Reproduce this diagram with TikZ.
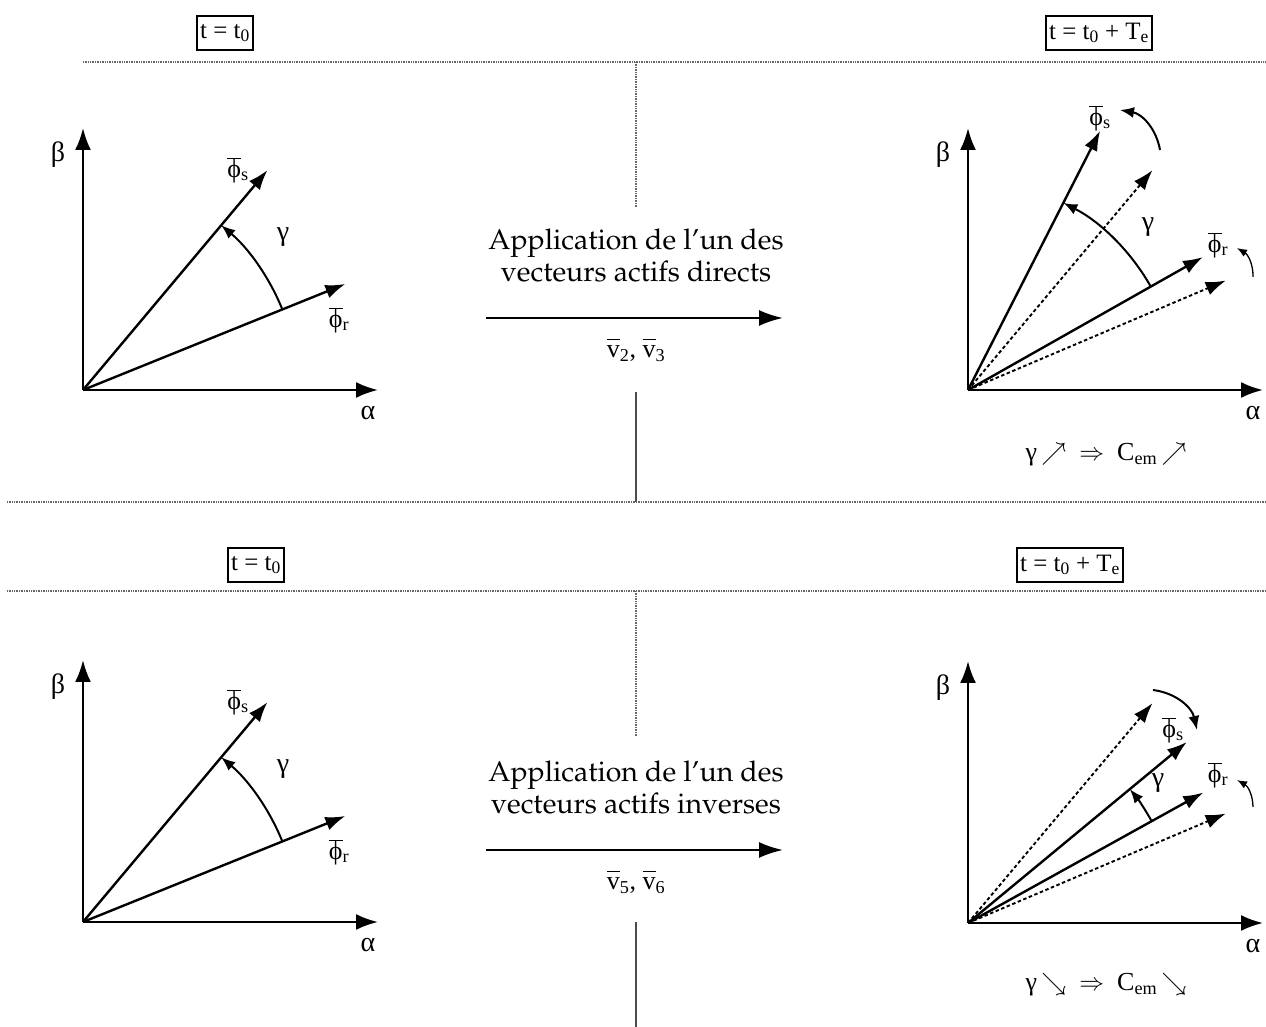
\documentclass[tikz,border=0pt]{standalone}
\usepackage[T1]{fontenc}
\usepackage{fontspec}
\setmainfont{Liberation Serif}
\usetikzlibrary{arrows.meta}
\newcommand\palfont{\IfFileExists{t1ppl.fd}{\fontencoding{T1}\fontfamily{ppl}\selectfont}{}}
\newcommand\phib[1]{$\overline{\mbox{ϕ}}$\textsubscript{#1}}
\newcommand\vb[1]{$\overline{\vphantom{T}\mbox{v}}$\textsubscript{#1}}
\newcommand\leftdiag[1]{%
  \coordinate (#1o) at (0,0);
  \coordinate (#1b) at (0,262);
  \coordinate (#1a) at (295,0);
  \coordinate (#1s) at (50:287);
  \coordinate (#1r) at (22:283);
  \coordinate (#1g1) at (22:215);
  \draw[axis] (#1o) -- (#1b);
  \draw[axis] (#1o) -- (#1a);
  \draw[vecs] (#1o) -- (#1s);
  \draw[vecs] (#1o) -- (#1r);
  \draw[angarc] (#1g1) arc[start angle=22, end angle=50, radius=215];
  \node[greek] (#1bl) at (-25,235) {β};
  \node[greek] (#1al) at (285,-23) {α};
  \node[lab] (#1sl) at (155,220) {\phib{s}};
  \node[lab] (#1rl) at (256,70) {\phib{r}};
  \node[greek] (#1gl) at (200,153) {γ};
}
\begin{document}
\begin{tikzpicture}[x=1pt,y=1pt,
  lab/.style={font=\fontsize{26}{30}\selectfont, inner sep=0pt},
  greek/.style={font=\fontsize{28}{30}\selectfont, inner sep=0pt},
  axis/.style={line width=2.4pt, -{Latex[length=22pt,width=16pt]}},
  vecs/.style={line width=2.4pt, -{Latex[length=20pt,width=14pt]}},
  dvec/.style={line width=1.9pt, dash pattern=on 3.5pt off 2.5pt, -{Latex[length=20pt,width=14pt]}},
  angarc/.style={line width=2pt, -{Latex[length=14pt,width=11pt]}},
  rotbig/.style={line width=2pt, -{Latex[length=14pt,width=11pt]}},
  rotsmall/.style={line width=1.3pt, -{Latex[length=10pt,width=8pt]}},
  sep/.style={line width=1.2pt, black!60, dash pattern=on 1pt off 0.7pt},
  sepsolid/.style={line width=1.6pt, black!70},
  tbox/.style={draw, line width=1.4pt, font=\fontsize{25}{28}\selectfont, inner xsep=3pt, inner ysep=2pt, minimum height=34pt},
  mid/.style={font=\palfont\fontsize{28.5}{32}\selectfont, align=center, inner sep=0pt},
  bigarrow/.style={line width=2.4pt, -{Latex[length=24pt,width=16pt]}},
  concl/.style={font=\fontsize{26}{30}\selectfont, inner sep=0pt}
]
\useasboundingbox (0,0) rectangle (1266,1027);

% separators
\coordinate (h1a) at (83,965);  \coordinate (h1b) at (1266,965);
\coordinate (v1a) at (636,965); \coordinate (v1b) at (636,820);
\coordinate (v2a) at (636,635); \coordinate (v2b) at (636,525);
\coordinate (h2a) at (7,525);   \coordinate (h2b) at (1266,525);
\coordinate (h3a) at (7,436);   \coordinate (h3b) at (1266,436);
\coordinate (v3a) at (636,436); \coordinate (v3b) at (636,290);
\coordinate (v4a) at (636,105); \coordinate (v4b) at (636,0);
\draw[sep] (h1a) -- (h1b);
\draw[sep] (v1a) -- (v1b);
\draw[sepsolid] (v2a) -- (v2b);
\draw[sep] (h2a) -- (h2b);
\draw[sep] (h3a) -- (h3b);
\draw[sep] (v3a) -- (v3b);
\draw[sepsolid] (v4a) -- (v4b);

% time boxes
\node[tbox] (tb1) at (225,994) {t = t\textsubscript{0}};
\node[tbox] (tb2) at (1099,994) {t = t\textsubscript{0} + T\textsubscript{e}};
\node[tbox] (tb3) at (256,462) {t = t\textsubscript{0}};
\node[tbox] (tb4) at (1070,462) {t = t\textsubscript{0} + T\textsubscript{e}};

% left diagrams
\begin{scope}[shift={(83,637)}]
  \leftdiag{tl}
\end{scope}
\begin{scope}[shift={(83,105)}]
  \leftdiag{bl}
\end{scope}

% top right diagram
\begin{scope}[shift={(968,637)}]
  \coordinate (tro) at (0,0);
  \coordinate (trb) at (0,262);
  \coordinate (tra) at (295,0);
  \coordinate (trs) at (63:291);
  \coordinate (trsd) at (50:287);
  \coordinate (trr) at (29.5:270);
  \coordinate (trrd) at (23:280);
  \coordinate (trg1) at (29.5:210);
  \draw[axis] (tro) -- (trb);
  \draw[axis] (tro) -- (tra);
  \draw[dvec] (tro) -- (trsd);
  \draw[dvec] (tro) -- (trrd);
  \draw[vecs] (tro) -- (trs);
  \draw[vecs] (tro) -- (trr);
  \draw[angarc] (trg1) arc[start angle=29.5, end angle=63, radius=210];
  \coordinate (trw1) at (192,240); \coordinate (trw2) at (152,280);
  \draw[rotbig] (trw1) to[bend right=35] (trw2);
  \coordinate (trq1) at (285,113); \coordinate (trq2) at (269,142);
  \draw[rotsmall] (trq1) to[bend right=30] (trq2);
  \node[greek] (trbl) at (-25,235) {β};
  \node[greek] (tral) at (285,-23) {α};
  \node[lab] (trsl) at (132,272) {\phib{s}};
  \node[lab] (trrl) at (250,145) {\phib{r}};
  \node[greek] (trgl) at (180,163) {γ};
\end{scope}

% bottom right diagram
\begin{scope}[shift={(968,104)}]
  \coordinate (bro) at (0,0);
  \coordinate (brb) at (0,262);
  \coordinate (bra) at (295,0);
  \coordinate (brs) at (39.6:284);
  \coordinate (brsd) at (50:287);
  \coordinate (brr) at (29:269);
  \coordinate (brrd) at (23:280);
  \coordinate (brg1) at (29:210);
  \draw[axis] (bro) -- (brb);
  \draw[axis] (bro) -- (bra);
  \draw[dvec] (bro) -- (brsd);
  \draw[dvec] (bro) -- (brrd);
  \draw[vecs] (bro) -- (brs);
  \draw[vecs] (bro) -- (brr);
  \draw[angarc] (brg1) arc[start angle=29, end angle=39.6, radius=210];
  \coordinate (brw1) at (185,233); \coordinate (brw2) at (229,193);
  \draw[rotbig] (brw1) to[bend left=35] (brw2);
  \coordinate (brq1) at (285,116); \coordinate (brq2) at (269,143);
  \draw[rotsmall] (brq1) to[bend right=30] (brq2);
  \node[greek] (brbl) at (-25,235) {β};
  \node[greek] (bral) at (285,-23) {α};
  \node[lab] (brsl) at (205,193) {\phib{s}};
  \node[lab] (brrl) at (250,148) {\phib{r}};
  \node[greek] (brgl) at (190,140) {γ};
\end{scope}

% central texts and arrows
\node[mid] (mt1) at (636,771) {Application de l'un des\\vecteurs actifs directs};
\coordinate (ma1) at (486,709); \coordinate (ma2) at (783,709);
\draw[bigarrow] (ma1) -- (ma2);
\node[lab] (ml1) at (636,677) {\vb{2}, \vb{3}};

\node[mid] (mt2) at (636,239) {Application de l'un des\\vecteurs actifs inverses};
\coordinate (mb1) at (486,177); \coordinate (mb2) at (783,177);
\draw[bigarrow] (mb1) -- (mb2);
\node[lab] (ml2) at (636,145) {\vb{5}, \vb{6}};

% conclusions
\node[concl] (c1) at (1106,572) {γ\,$\nearrow$\enspace$\Rightarrow$\enspace C\textsubscript{em}\,$\nearrow$};
\node[concl] (c2) at (1106,42) {γ\,$\searrow$\enspace$\Rightarrow$\enspace C\textsubscript{em}\,$\searrow$};
\end{tikzpicture}
\end{document}
